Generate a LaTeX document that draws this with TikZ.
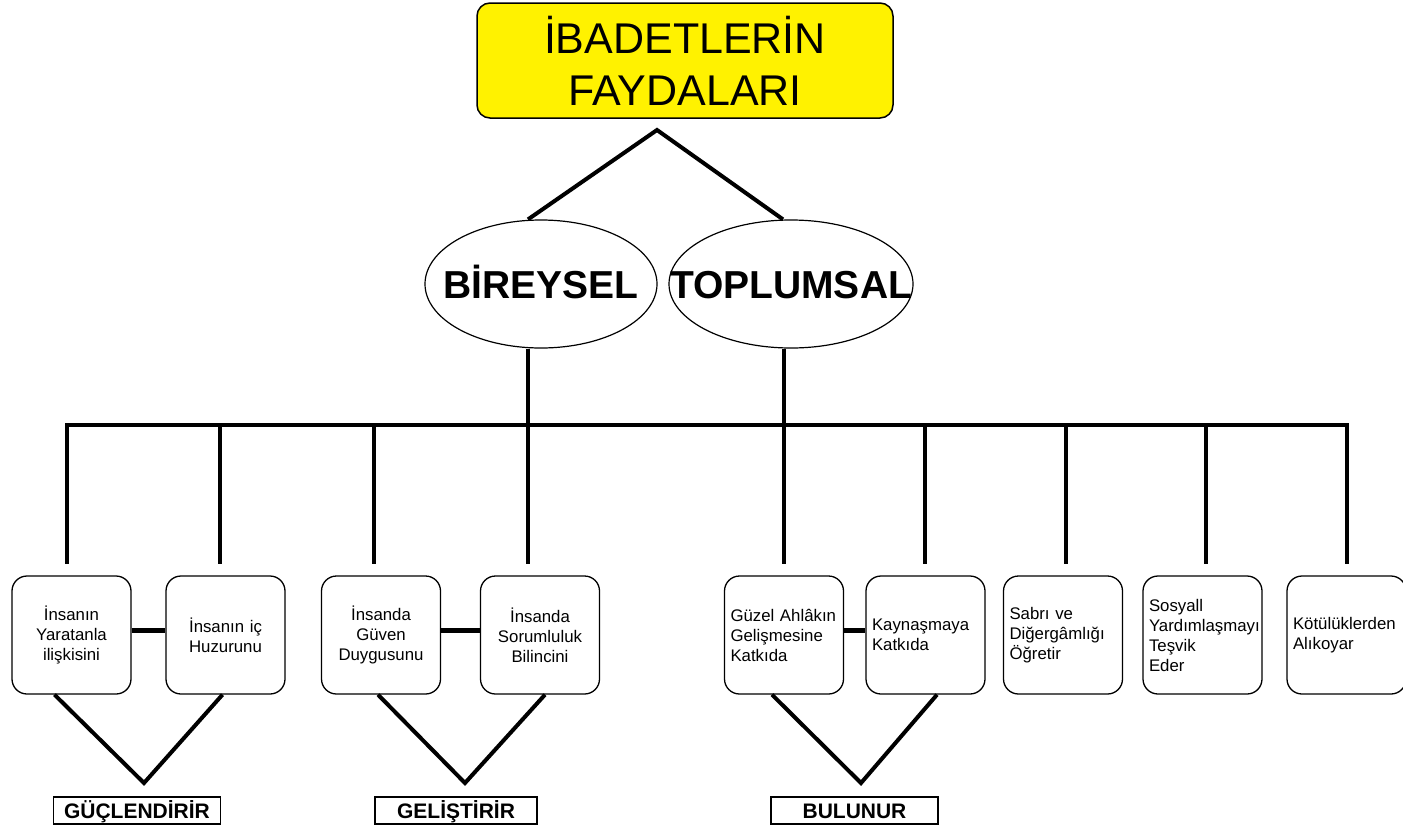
\documentclass[tikz,border=0pt]{standalone}
\usepackage{fontspec}
\setmainfont{Liberation Sans}
\usetikzlibrary{shapes.geometric}

\begin{document}
\begin{tikzpicture}[x=1pt,y=-1pt,
		kalin/.style={line width=4pt},
		kutu/.style={draw,line width=1.3pt,rounded corners=15pt,minimum width=119pt,minimum height=118pt,inner xsep=6pt,text width=107pt,font=\fontsize{16.8}{20}\selectfont},
		elips/.style={draw,ellipse,line width=1.2pt,inner sep=0pt,minimum height=128pt,text height=28pt,text depth=0pt,font=\fontsize{39}{44}\selectfont\bfseries},
		etiket/.style={draw,line width=1.5pt,inner sep=0pt,minimum width=167pt,minimum height=27pt,text height=15pt,text depth=0pt,font=\fontsize{21}{24}\selectfont\bfseries}]
		\useasboundingbox (0,0) rectangle (1403,828);
		\node[draw,fill=yellow,line width=1.5pt,rounded corners=13pt,minimum width=416pt,minimum height=115pt,align=center,font=\fontsize{43}{52}\selectfont](baslik) at (685,60.5) {İBADETLERİN\\FAYDALARI};
		\node[elips,minimum width=232pt](bireysel) at (541,284) {\makebox[0pt]{BİREYSEL}};
		\node[elips,minimum width=244pt](toplumsal) at (791,284) {\makebox[0pt]{TOPLUMSAL}};
		\coordinate (tepe) at (657,130);
		\draw[kalin] ([xshift=-13pt]bireysel.north) -- (tepe) -- ([xshift=-8pt]toplumsal.north);
		\coordinate (busL) at (67,425);
		\coordinate (busR) at (1347,425);
		\draw[kalin,line cap=rect] (busL) -- (busR);
		\coordinate (b1) at ([xshift=-13pt]bireysel.south);
		\coordinate (b2) at ([xshift=-7pt]toplumsal.south);
		\draw[kalin] (b1) -- (b1 |- busL);
		\draw[kalin] (b2) -- (b2 |- busL);
		\node[kutu,align=center](k1) at (71.5,635) {İnsanın\\Yaratanla\\ilişkisini};
		\node[kutu,align=center](k2) at (225.5,635) {İnsanın iç\\Huzurunu};
		\node[kutu,align=center](k3) at (381,635) {İnsanda\\Güven\\Duygusunu};
		\node[kutu,align=center](k4) at (540,635) {İnsanda\\Sorumluluk\\Bilincini};
		\node[kutu,align=left](k5) at (784,635) {Güzel Ahlâkın\\Gelişmesine\\Katkıda};
		\node[kutu,align=left](k6) at (925.5,635) {Kaynaşmaya\\Katkıda};
		\node[kutu,align=left](k7) at (1063,635) {Sabrı ve\\Diğergâmlığı\\Öğretir};
		\node[kutu,align=left](k8) at (1202.5,635) {Sosyall\\Yardımlaşmayı\\Teşvik\\Eder};
		\node[kutu,align=left](k9) at (1346.5,635) {Kötülüklerden\\Alıkoyar};
		\foreach \x/\k in {67/k1,220/k2,374/k3,528/k4,784/k5,925/k6,1066/k7,1206/k8,1347/k9}{
			\coordinate (u) at (\x,425);
			\draw[kalin,shorten >=11pt] (u) -- (u |- \k.north);
		}
		\draw[line width=5pt] ([yshift=5pt]k1.east) -- ([yshift=5pt]k2.west);
		\draw[line width=5pt] ([yshift=5pt]k3.east) -- ([yshift=5pt]k4.west);
		\draw[line width=5pt] ([yshift=5pt]k5.east) -- ([yshift=5pt]k6.west);
		\coordinate (v1) at (144,783);
		\coordinate (v2) at (465,783);
		\coordinate (v3) at (861,783);
		\draw[kalin] ([xshift=-17pt]k1.south) -- (v1) -- ([xshift=-3pt]k2.south);
		\draw[kalin] ([xshift=-3pt]k3.south) -- (v2) -- ([xshift=5pt]k4.south);
		\draw[kalin] ([xshift=-12pt]k5.south) -- (v3) -- ([xshift=11.5pt]k6.south);
		\node[etiket](l1) at (137,810.5) {GÜÇLENDİRİR};
		\node[etiket,minimum width=162pt](l2) at (456,810.5) {GELİŞTİRİR};
		\node[etiket](l3) at (854.5,810.5) {BULUNUR};
	\end{tikzpicture}
\end{document}
